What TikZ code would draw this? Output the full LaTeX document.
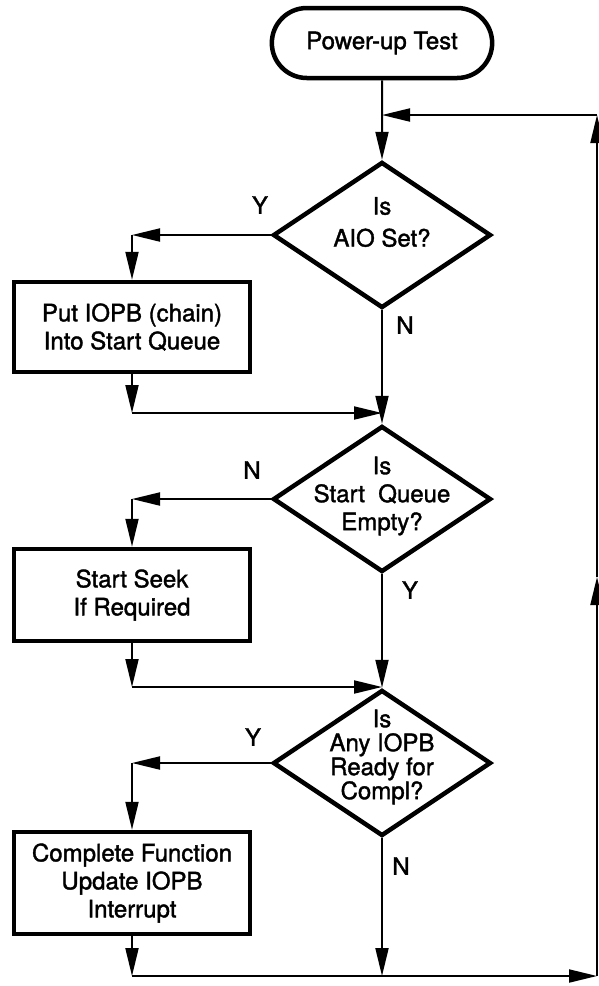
\documentclass[tikz,border=0pt]{standalone}
\usepackage{fontspec}
\setmainfont{TeX Gyre Heros}[FakeBold=1.5]
\usetikzlibrary{arrows.meta,shapes.geometric,shapes.misc}

\begin{document}
\begin{tikzpicture}[x=1pt,y=-1pt,
font=\fontsize{24}{28}\selectfont,
term/.style={rounded rectangle,draw,line width=4.5pt,minimum width=227pt,minimum height=70pt},
block/.style={draw,line width=4.5pt,align=center,minimum width=236pt,minimum height=90pt},
decision/.style={diamond,draw,line width=4.5pt,minimum width=218pt,minimum height=146pt,inner sep=0pt},
dtext/.style={align=center,inner sep=0pt},
arr/.style={-{Triangle[length=28pt,width=13pt]},line width=2pt},
yn/.style={inner sep=0pt}
]
\useasboundingbox (0,0) rectangle (598,986);
\node[term] (start) at (382,43) {Power-up Test};
\coordinate (join) at (382,115);
\node[decision,label={[dtext,yshift=13pt]center:{Is\\[4pt]AIO Set?}}] (aio) at (382,235) {};
\node[block] (put) at (132,327) {Put IOPB (chain)\\Into Start Queue};
\node[decision,label={[dtext,yshift=3pt]center:{Is\\Start~~Queue\\Empty?}}] (sq) at (382,499) {};
\node[block,minimum height=92pt] (seek) at (132,595) {Start Seek\\If Required};
\node[decision,label={[dtext,yshift=6pt,font=\fontsize{24}{24}\selectfont]center:{Is\\Any IOPB\\Ready for\\Compl?}}] (rdy) at (382,763) {};
\node[block,minimum height=102pt] (cmpl) at (132,883) {Complete Function\\Update IOPB\\Interrupt};
\node[yn] (y1) at (260,205) {Y};
\node[yn] (n1) at (405,325) {N};
\node[yn] (n2) at (252,470) {N};
\node[yn] (y2) at (410,590) {Y};
\node[yn] (y3) at (253,737) {Y};
\node[yn] (n3) at (401,866) {N};
\coordinate (ay) at (put.north |- aio.west);
\coordinate (ab) at (132,413);
\coordinate (am) at (382,413);
\coordinate (sn) at (seek.north |- sq.west);
\coordinate (sb) at (132,687);
\coordinate (sm) at (382,687);
\coordinate (ry) at (cmpl.north |- rdy.west);
\coordinate (cb) at (132,976);
\coordinate (rm) at (382,976);
\coordinate (rb) at (597,976);
\coordinate (rmid) at (597,577);
\coordinate (rt) at (597,115);
\draw[arr] (start) -- (aio);
\draw[arr] (aio.west) -- (ay);
\draw[arr] (ay) -- (put);
\draw[arr] (put) -- (ab);
\draw[arr] (ab) -- (am);
\draw[arr] (aio) -- (sq);
\draw[arr] (sq.west) -- (sn);
\draw[arr] (sn) -- (seek);
\draw[arr] (seek) -- (sb);
\draw[arr] (sb) -- (sm);
\draw[arr] (sq) -- (rdy);
\draw[arr] (rdy.west) -- (ry);
\draw[arr] (ry) -- (cmpl);
\draw[arr] (cmpl) -- (cb);
\draw[arr] (rdy) -- (rm);
\draw[arr] (cb) -- (rb);
\draw[arr] (rb) -- (rmid);
\draw[arr] (rmid) -- (rt);
\draw[arr] (rt) -- (join);
\end{tikzpicture}
\end{document}
